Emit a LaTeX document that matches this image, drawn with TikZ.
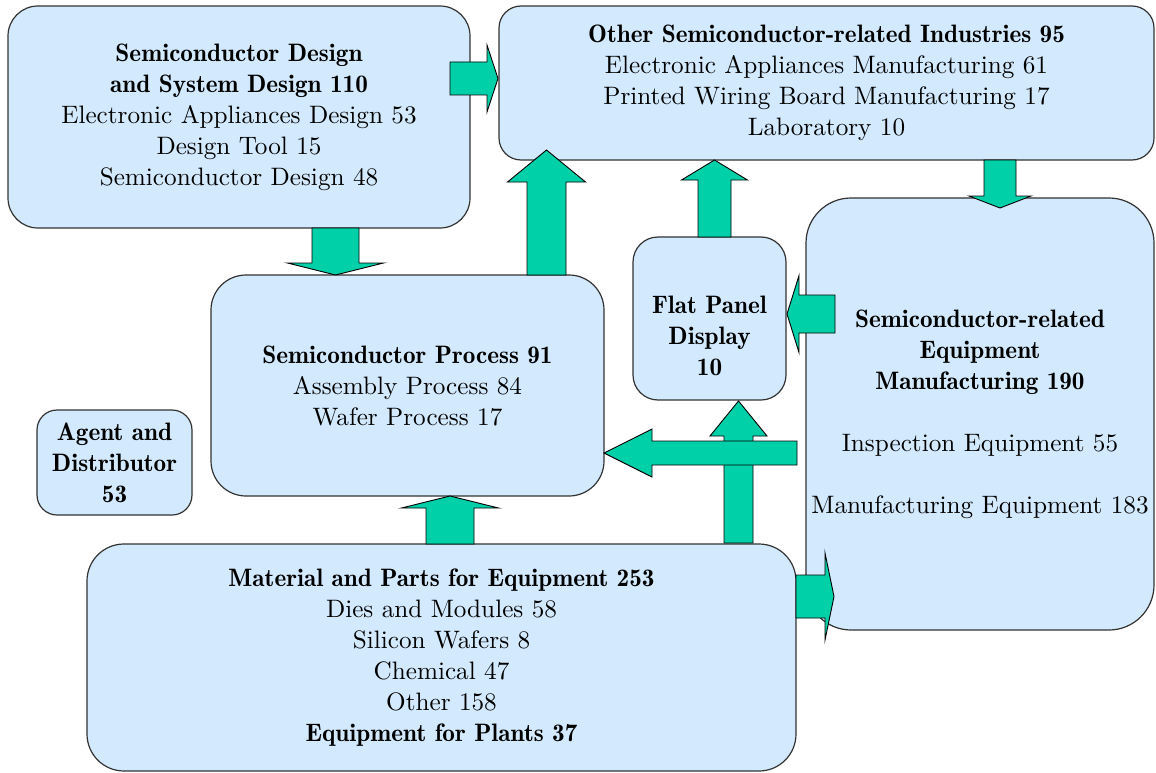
\documentclass[tikz,border=0pt]{standalone}
\usepackage{fontspec}
\setmainfont{lmroman10-regular.otf}[BoldFont=lmromandemi10-regular.otf]
\usetikzlibrary{calc}
\definecolor{boxblue}{RGB}{211,233,254}
\definecolor{flowgreen}{RGB}{0,208,168}
\newcommand{\blockflow}[5]{%
\coordinate (#1m) at ($(#2)!#5!(#1)$);
\draw[flow] ($(#1)!#3!90:(#2)$) -- ($(#1m)!#3!90:(#2)$) -- ($(#1m)!#4!90:(#2)$) -- (#2)
  -- ($(#1m)!#4!-90:(#2)$) -- ($(#1m)!#3!-90:(#2)$) -- ($(#1)!#3!-90:(#2)$) -- cycle;}

\begin{document}
\begin{tikzpicture}[x=1pt,y=-1pt,font=\fontsize{25.2}{31}\selectfont,
  box/.style={draw=black!80,line width=1.2pt,fill=boxblue,rounded corners=#1,align=center,inner sep=0pt,outer sep=0pt},
  flow/.style={draw=black,line width=0.9pt,fill=flowgreen,line join=miter}]
\useasboundingbox (0,0) rectangle (1156,773);
\node[box=30pt,minimum width=462pt,minimum height=222pt] (design) at (239,117)
  {\textbf{Semiconductor Design}\\\textbf{and System Design 110}\\Electronic Appliances Design 53\\Design Tool 15\\Semiconductor Design 48};
\node[box=22pt,minimum width=655pt,minimum height=154pt] (others) at (826.5,83)
  {\textbf{Other Semiconductor-related Industries 95}\\Electronic Appliances Manufacturing 61\\Printed Wiring Board Manufacturing 17\\Laboratory 10};
\node[box=35pt,minimum width=393pt,minimum height=221pt] (process) at (407.5,385.5)
  {\textbf{Semiconductor Process 91}\\Assembly Process 84\\Wafer Process 17};
\node[box=25pt,minimum width=153pt,minimum height=163pt] (fpd) at (709.5,318.5)
  {\rule{0pt}{52pt}\textbf{Flat Panel}\\\textbf{Display}\\\textbf{10}};
\node[box=45pt,minimum width=348pt,minimum height=432pt] (equip) at (980,414)
  {\textbf{Semiconductor-related}\\\textbf{Equipment}\\\textbf{Manufacturing 190}\\[31pt]Inspection Equipment 55\\[31pt]Manufacturing Equipment 183};
\node[box=20pt,minimum width=155pt,minimum height=105pt] (agent) at (114.5,462.5)
  {\textbf{Agent and}\\\textbf{Distributor}\\\textbf{53}};
\node[box=37pt,minimum width=709pt,minimum height=227pt] (material) at (441.5,657.5)
  {\textbf{Material and Parts for Equipment 253}\\Dies and Modules 58\\Silicon Wafers 8\\Chemical 47\\Other 158\\\textbf{Equipment for Plants 37}};

\coordinate (do1) at ($(design.east)+(-20,-38.5)$);
\coordinate (do2) at ($(others.west)+(-1,-4.5)$);
\blockflow{do1}{do2}{16.5pt}{33.5pt}{11pt}
\coordinate (dp1) at ($(design.south)+(96.5,0)$);
\coordinate (dp2) at ($(process.north)+(-72,0)$);
\blockflow{dp1}{dp2}{23.5pt}{48pt}{12pt}
\coordinate (po1) at ($(process.north)+(139,0)$);
\coordinate (po2) at ($(others.south)+(-280,-10)$);
\blockflow{po1}{po2}{19.5pt}{39pt}{32pt}
\coordinate (fo1) at ($(fpd.north)+(5,0)$);
\coordinate (fo2) at ($(others.south)+(-112,0)$);
\blockflow{fo1}{fo2}{16.5pt}{33pt}{20pt}
\coordinate (oe1) at ($(others.south)+(173.5,0)$);
\coordinate (oe2) at ($(equip.north)+(20,10)$);
\blockflow{oe1}{oe2}{16pt}{31pt}{12pt}
\coordinate (ef1) at ($(equip.west)+(29,-100)$);
\coordinate (ef2) at ($(fpd.east)+(1,-4.5)$);
\blockflow{ef1}{ef2}{19pt}{38.5pt}{12pt}
\coordinate (mf1) at ($(material.north)+(297,-1)$);
\coordinate (mf2) at ($(fpd.south)+(29,1)$);
\blockflow{mf1}{mf2}{14.5pt}{28.5pt}{35pt}
\coordinate (ep1) at ($(equip.west)+(-9,39)$);
\coordinate (ep2) at ($(process.east)+(0,67.5)$);
\blockflow{ep1}{ep2}{12pt}{24pt}{48pt}
\coordinate (mp1) at ($(material.north)+(8.5,0)$);
\coordinate (mp2) at ($(process.south)+(42.5,0)$);
\blockflow{mp1}{mp2}{24pt}{48.5pt}{12pt}
\coordinate (me1) at ($(material.east)+(0,-61)$);
\coordinate (me2) at ($(equip.west)+(28,182.5)$);
\blockflow{me1}{me2}{21.5pt}{43.5pt}{9pt}
\end{tikzpicture}
\end{document}
